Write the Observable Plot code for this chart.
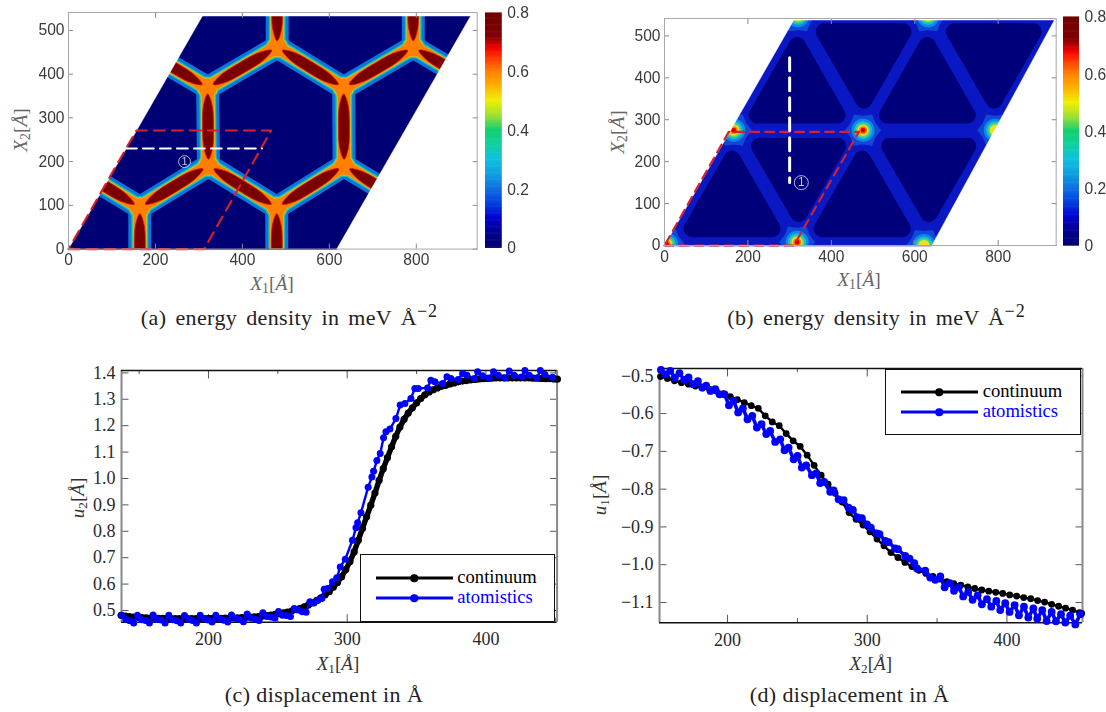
<!DOCTYPE html>
<html><head><meta charset="utf-8">
<script src="https://cdn.jsdelivr.net/npm/d3@7"></script>
<script src="https://cdn.jsdelivr.net/npm/@observablehq/plot@0.6"></script>
<style>
html,body{margin:0;padding:0;background:#fff}
#page{position:relative;width:1106px;height:712px;overflow:hidden;background:#fff}
.lbl{position:absolute;white-space:nowrap;transform:translate(-50%,-50%);line-height:1}
.lbl sub{font-size:.7em;vertical-align:baseline;position:relative;top:.25em;font-style:normal}
.lbl sup{font-size:.82em;vertical-align:baseline;position:relative;top:-.42em;letter-spacing:1px}
.cap{font-family:"Liberation Serif",serif;font-size:22px;color:#222;letter-spacing:.4px}
.capw{word-spacing:3px}
.axT{font-family:"Liberation Serif",serif;font-size:19.5px;color:#666}
.axB{font-family:"Liberation Serif",serif;font-size:19px;color:#333}
.legend{position:absolute;border:1.3px solid #111;background:#fff;box-sizing:border-box}
.leg{position:absolute;font-family:"Liberation Serif",serif;font-size:18.6px;line-height:1;transform:translateY(-52%)}
.lline{position:absolute;height:3px;transform:translateY(-50%)}
.ldot{position:absolute;width:7.5px;height:7.5px;border-radius:50%;transform:translate(-50%,-50%)}
</style></head><body><div id="page"></div>
<script>
// ---------- panel (a): wall network ----------
const aNodes = [[164,95],[322,191],[479,95],[634,191],[320,369],[633,369],[480,462],[793,462]];
const aEdges = [
 [[164,95],[322,191]],[[322,191],[479,95]],[[479,95],[634,191]],
 [[320,369],[480,462]],[[480,462],[633,369]],[[633,369],[793,462]],
 [[322,191],[320,369]],[[634,191],[633,369]],
 [[164,95],[164,-83]],[[479,95],[479,-83]],[[480,462],[480,640]],[[793,462],[793,640]],
 [[164,95],[6,191]],[[320,369],[162,462]],[[634,191],[793,95]],[[793,462],[952,369]]
];
const aOutline = [[0,0],[617,0],[925,533],[308,533]];
const aRed = [[0,0],[312,0],[466,271],[156,271],[0,0]];
const aWhite = [[132,230],[445,230]];
const aMark = [[267,200]];
// ---------- panel (b): triangular network ----------
const bOutline = [[0,0],[641,0],[935,538],[310,538]];
const bTriangles = [
 [[162,206],[66,40],[258,40]],[[474,206],[378,40],[570,40]],
 [[318,477],[222,311],[414,311]],[[630,477],[534,311],[726,311]],
 [[228,237],[415,237],[322,76]],[[540,237],[727,237],[634,76]],
 [[383,510],[572,510],[478,347]],[[695,510],[884,510],[790,347]]
];
const bHotFull = [[476,275],[318,8],[5,3],[166,275]];
const bHotPart = [[622,0],[793,275],[320,548],[632,548]];
const bRed = [[0,0],[310,0],[466,271],[154,271],[0,0]];
const bWhite = [[300,448],[300,150]];
const bMark = [[328,150]];
// ---------- colour bar ----------
const barStops = [0,.05,.1,.15,.2,.25,.3,.35,.4,.45,.5,.55,.6,.65,.68,.72,.8];
const barColors = ["#000070","#000090","#0000d0","#0040e0","#1070e0","#10a0e0","#10c0e0","#10d0a0","#10d070","#a0e030","#f0f000","#ffb000","#ff8000","#ff3000","#f00000","#800000","#700000"];
// ---------- panel (c) ----------
const cContX = [137,140,143,146,149,152,155,158,161,164,167,170,173,176,179,182,185,188,191,194,197,200,203,206,209,212,215,218,221,224,227,230,233,236,239,242,245,248,251,254,257,260,263,266,269,272,275,278,281,284,287,290,293,296,299,302,305,308,311,314,317,320,323,326,329,332,335,338,341,344,347,350,353,356,359,362,365,368,371,374,377,380,383,386,389,392,395,398,401,404,407,410,413,416,419,422,425,428,431,434,437,440,443,446,449,451.5];
const cContU = [.482,.479,.477,.475,.474,.473,.472,.471,.471,.470,.470,.470,.469,.469,.469,.469,.469,.469,.469,.469,.469,.470,.470,.470,.470,.471,.471,.472,.472,.473,.474,.475,.476,.477,.479,.481,.483,.485,.488,.491,.494,.498,.503,.508,.514,.521,.529,.538,.548,.559,.571,.588,.606,.628,.655,.686,.722,.766,.811,.855,.899,.945,.993,1.037,1.079,1.120,1.160,1.195,1.224,1.248,1.268,1.286,1.303,1.317,1.328,1.336,1.343,1.349,1.353,1.358,1.362,1.366,1.369,1.371,1.373,1.375,1.377,1.378,1.379,1.380,1.381,1.381,1.381,1.381,1.381,1.381,1.381,1.381,1.381,1.380,1.380,1.379,1.378,1.378,1.377,1.376];
const cAtomX = [137.5,140.4,143.3,146.1,148.8,151.7,154.6,157.4,160.1,163,165.9,168.7,171.4,174.3,177.2,180,182.7,185.6,188.5,191.3,194,196.9,199.8,202.6,205.3,208.2,211.1,213.9,216.6,219.5,222.4,225.2,227.9,230.8,233.7,236.5,239.2,242.1,245,247.8,250.5,253.4,256.3,259.1,261.8,264.7,267.6,270.4,273.1,276,278.9,281.7,283.4,285.8,289.4,292.5,295,298.6,303.8,306.3,307.5,309.9,315.1,317.8,319,321.4,323.8,326.2,327.9,330.8,335.1,338.2,341.6,345.9,348.8,351.2,357.9,360.3,363.2,368.8,371.9,374.8,380,383.2,386.3,391.6,394,397.6,402.4,405.5,408.9,413.9,416.8,420.4,425.7,428.1,431.2,436.8,439.2,442.5,448.1];
const cAtomU = [.482,.466,.461,.453,.482,.465,.462,.453,.483,.466,.464,.453,.482,.465,.461,.453,.481,.467,.462,.453,.482,.469,.464,.456,.482,.469,.463,.456,.483,.471,.466,.457,.487,.472,.467,.462,.491,.477,.475,.472,.496,.482,.481,.477,.508,.502,.495,.493,.533,.528,.539,.545,.580,.583,.609,.624,.665,.694,.766,.813,.832,.870,.967,1.006,1.027,1.068,1.095,1.154,1.177,1.187,1.227,1.278,1.284,1.303,1.341,1.341,1.343,1.372,1.366,1.360,1.385,1.379,1.375,1.398,1.391,1.379,1.404,1.389,1.381,1.404,1.391,1.381,1.407,1.391,1.384,1.409,1.391,1.381,1.409,1.394,1.383];
// ---------- panel (d) ----------
const dContX = [152,157,162,167,172,177,182,187,192,197,202,207,212,217,222,227,232,237,242,247,252,257,262,267,272,277,282,287,292,297,302,307,312,317,322,327,332,337,342,347,352,357,362,367,372,377,382,387,392,397,402,407,412,417,422,427,432,437,442,447,452,453.5];
const dContU = [-.502,-.507,-.513,-.518,-.522,-.527,-.532,-.535,-.540,-.547,-.555,-.563,-.571,-.579,-.586,-.606,-.622,-.632,-.653,-.672,-.687,-.710,-.737,-.763,-.787,-.811,-.834,-.862,-.880,-.895,-.913,-.932,-.950,-.968,-.981,-.994,-1.005,-1.015,-1.023,-1.031,-1.038,-1.045,-1.050,-1.054,-1.059,-1.063,-1.067,-1.070,-1.073,-1.076,-1.080,-1.083,-1.087,-1.090,-1.095,-1.099,-1.105,-1.110,-1.115,-1.120,-1.127,-1.129];
const dAtomX = [152.3,155.6,159,162.3,165.6,169,172.1,175.4,178.8,181.9,184.7,187.8,191.2,194.3,197.9,201,204.3,207.6,211,214.3,217.7,221,224.3,227.7,230.5,234.1,237.7,240.8,243.7,247.3,250.1,253.2,256.3,260.4,263.5,266.3,269.2,273.5,275.9,279.5,283.1,286.6,289.7,293.1,296.2,299.8,302.6,306.9,308.8,312.9,315.3,320,322,327.2,330.3,333.7,335.6,341.5,345.1,348.7,352.3,355.4,359,362.1,365.6,368.7,372.3,375.4,379,382.1,385.7,388.8,392.4,395.2,398.8,401.9,405.5,408.6,412.2,415.3,418.9,421.7,425.3,428.4,432,435.1,438.7,441.8,445.3,449,452.5];
const dAtomU = [-.484,-.496,-.487,-.505,-.493,-.511,-.504,-.522,-.514,-.531,-.526,-.540,-.535,-.549,-.549,-.578,-.566,-.597,-.586,-.615,-.606,-.637,-.628,-.654,-.646,-.675,-.668,-.697,-.690,-.721,-.712,-.743,-.737,-.763,-.758,-.784,-.781,-.807,-.803,-.827,-.829,-.849,-.855,-.875,-.877,-.893,-.902,-.917,-.919,-.937,-.940,-.957,-.959,-.977,-.984,-.996,-1.010,-1.016,-1.034,-1.040,-1.031,-1.060,-1.049,-1.069,-1.060,-1.084,-1.072,-1.093,-1.081,-1.105,-1.091,-1.111,-1.096,-1.120,-1.102,-1.125,-1.107,-1.134,-1.111,-1.140,-1.116,-1.143,-1.120,-1.149,-1.125,-1.150,-1.131,-1.153,-1.135,-1.158,-1.131];

const page = document.getElementById("page");
const pts = a => a.map(([x,y]) => ({x,y}));
const zip = (X,U) => X.map((x,i) => ({x,y:U[i]}));

function mount(box, domX, domY, marks, m={l:60,r:8,t:6,b:30}, extra={}, blur=0) {
  const [L,T,R,B] = box;
  const svg = Plot.plot({
    width:R-L+m.l+m.r, height:B-T+m.t+m.b,
    marginLeft:m.l, marginRight:m.r, marginTop:m.t, marginBottom:m.b,
    x:{domain:domX, axis:null}, y:{domain:domY, axis:null},
    style:{background:"transparent",overflow:"visible"},
    marks, ...extra
  });
  svg.style.position="absolute"; svg.style.left=(L-m.l)+"px"; svg.style.top=(T-m.t)+"px";
  if(blur) svg.style.filter=`blur(${blur}px)`;
  page.appendChild(svg);
}
function label(x,y,html,cls,rot){
  const d=document.createElement("div"); d.className="lbl "+cls; d.innerHTML=html;
  d.style.left=x+"px"; d.style.top=y+"px";
  if(rot) d.style.transform=`translate(-50%,-50%) rotate(${rot}deg)`;
  page.appendChild(d);
}
// ticks on all four sides with labels left and bottom
function sideAxes(xt,yt,o){
  const f={fontFamily:o.font,fontSize:o.size,color:o.color};
  const common={tickSize:-o.tick,stroke:o.tickColor,strokeWidth:1};
  return [
    Plot.axisX(xt,{anchor:"bottom",label:null,tickPadding:o.tick+o.padX,tickFormat:o.fx,...common,...f,fill:o.color}),
    Plot.axisY(yt,{anchor:"left",label:null,tickPadding:o.tick+o.padY,tickFormat:o.fy,...common,...f,fill:o.color}),
    Plot.axisX(xt,{anchor:"top",label:null,tickFormat:()=>"",...common}),
    Plot.axisY(yt,{anchor:"right",label:null,tickFormat:()=>"",...common})
  ];
}
const sans={font:"Liberation Sans",size:15.6,color:"#3a3a3a",tick:5,tickColor:"#8a8a8a",padX:5,padY:4,fx:d=>d,fy:d=>d};
const dashRed={stroke:"#d8202a",strokeWidth:2.1,strokeDasharray:"11,7"};

// masks: white polygons outside the parallelogram
function masks(o,xM,yM){
  const [bl,br,tr,tl]=o;
  const polys=[
    [[0,0],[tl[0],tl[1]],[tl[0],yM],[0,yM]],
    [[br[0],br[1]],[tr[0],tr[1]],[tr[0],yM],[xM,yM],[xM,0]],
    [[tl[0],tl[1]],[tr[0],tr[1]],[tr[0],yM],[tl[0],yM]]
  ];
  return polys.flatMap((p,i)=>p.map(([x,y])=>({x,y,z:i})));
}
function lens(e,i){
  const [[x0,y0],[x1,y1]]=e, dx=x1-x0, dy=y1-y0, len=Math.hypot(dx,dy), nx=-dy/len, ny=dx/len;
  const a=.08,b=.92, h=12.5;
  const P=(t,w)=>({x:x0+dx*t+nx*w,y:y0+dy*t+ny*w,z:i});
  return [P(a,0),P(a+(b-a)*.2,h*.85),P(.5,h),P(b-(b-a)*.2,h*.85),P(b,0),P(b-(b-a)*.2,-h*.85),P(.5,-h),P(a+(b-a)*.2,-h*.85)];
}
// six-lobed outline for the hot-spot halo in panel (b)
const star6={draw(ctx,size){
  const r=Math.sqrt(size/Math.PI);
  for(let i=0;i<12;i++){
    const a=i*Math.PI/6, q=i%2?.8*r:r;
    ctx[i?"lineTo":"moveTo"](q*Math.cos(a),q*Math.sin(a));
  }
  ctx.closePath();
}};

// ---- panel a ----
const aLayers=[[23,13,"#0f74d9"],[17,11.5,"#12b0d0"],[15.4,10.8,"#38d078"],[13.6,10,"#e8c828"],[12.6,9.4,"#ff8000"]];
const edgeObj=aEdges.map(([p,q])=>({x1:p[0],y1:p[1],x2:q[0],y2:q[1]}));
mount([68.3,11.7,477,248.3],[0,940],[0,541],[
  Plot.line([...pts(aOutline),pts(aOutline)[0]],{x:"x",y:"y",fill:"#000075",stroke:"#000075"}),
  ...aLayers.flatMap(([w,r,c])=>[
    Plot.link(edgeObj,{x1:"x1",y1:"y1",x2:"x2",y2:"y2",stroke:c,strokeWidth:w,clip:true}),
    Plot.dot(pts(aNodes),{x:"x",y:"y",r,fill:c,clip:true})
  ]),
  Plot.line(aEdges.flatMap(lens),{x:"x",y:"y",z:"z",curve:"cardinal-closed",fill:"#7a0000",stroke:"#d81010",strokeWidth:.8,clip:true}),
  Plot.line(masks(aOutline,940,541),{x:"x",y:"y",z:"z",curve:"linear-closed",fill:"white",stroke:"white",strokeWidth:.5}),
  Plot.line(pts(aRed),{x:"x",y:"y",...dashRed}),
  Plot.line(pts(aWhite),{x:"x",y:"y",stroke:"white",strokeWidth:1.8,strokeDasharray:"11,6"}),
  Plot.dot(pts(aMark),{x:"x",y:"y",r:6,stroke:"#c8c8e0",strokeWidth:.9}),
  Plot.text(pts(aMark),{x:"x",y:"y",text:()=>"1",fill:"#c8c8e0",fontSize:11,fontFamily:"Liberation Sans"}),
  ...sideAxes([0,200,400,600,800],[0,100,200,300,400,500],sans),
  Plot.frame({stroke:"#a8a8a8",strokeWidth:1})
],undefined,{},.35);
// ---- panel b ----
const hotLayers=[[11.5,"#1088e8"],[9,"#14c0d8"],[7,"#60d860"],[5.5,"#f0e020"],[4,"#ff8000"],[2.5,"#f00000"],[1,"#800000"]];
mount([664,18.3,1055.7,245.3],[0,939],[0,541.5],[
  Plot.line([...pts(bOutline),pts(bOutline)[0]],{x:"x",y:"y",fill:"#0a18c4",stroke:"#0a18c4"}),
  Plot.line(bTriangles.flatMap((t,i)=>t.map(([x,y])=>({x,y,z:i}))),{x:"x",y:"y",z:"z",curve:"linear-closed",fill:"#00007a",stroke:"#00007a",strokeWidth:17,strokeLinejoin:"round"}),
  Plot.dot([...pts(bHotFull),...pts(bHotPart)],{x:"x",y:"y",r:18,symbol:star6,fill:"#1048d8",clip:true}),
  ...hotLayers.map(([r,c],i)=>Plot.dot(i<4?[...pts(bHotFull),...pts(bHotPart)]:pts(bHotFull),{x:"x",y:"y",r,fill:c,clip:true})),
  Plot.line(masks(bOutline,939,541.5),{x:"x",y:"y",z:"z",curve:"linear-closed",fill:"white",stroke:"white",strokeWidth:.5}),
  Plot.line(pts(bRed),{x:"x",y:"y",...dashRed,strokeDasharray:"9,6"}),
  Plot.line(pts(bWhite),{x:"x",y:"y",stroke:"white",strokeWidth:3,strokeDasharray:"13,7"}),
  Plot.dot(pts(bMark),{x:"x",y:"y",r:7,stroke:"#c8c8e0",strokeWidth:.9}),
  Plot.text(pts(bMark),{x:"x",y:"y",text:()=>"1",fill:"#c8c8e0",fontSize:12,fontFamily:"Liberation Sans"}),
  ...sideAxes([0,200,400,600,800],[0,100,200,300,400,500],sans),
  Plot.frame({stroke:"#a8a8a8",strokeWidth:1})
],undefined,{},.35);
// ---- colour bars ----
function colorbar(box){
  const steps=d3.range(0,.8,.004).map(v=>({v}));
  mount(box,[0,1],[0,.8],[
    Plot.rect(steps,{x1:()=>0,x2:()=>1,y1:"v",y2:d=>d.v+.006,fill:"v"}),
    Plot.axisY([0,.2,.4,.6,.8],{anchor:"right",label:null,tickSize:0,tickPadding:5,tickFormat:d=>d===0?"0":d.toFixed(1),fontFamily:"Liberation Sans",fontSize:15.6,fill:"#3a3a3a"})
  ],{l:2,r:32,t:6,b:6},{color:{type:"linear",domain:barStops,range:barColors,interpolate:"rgb"}},.3);
}
colorbar([485,13,501.7,248]);
colorbar([1063.3,17.3,1079.3,246]);
// ---- line panels ----
const serif={font:"Liberation Serif",size:18,color:"#2a2a2a",tick:7.5,tickColor:"#555",padX:10,padY:6,fx:d=>d,fy:d3.format(".1f")};
function linePanel(box,dx,dy,xt,xminor,yt,cont,atom,st){
  const [x0,x1]=dx,[y0,y1]=dy;
  mount(box,dx,dy,[
    Plot.ruleX(xminor,{y1:y0,y2:y0+(y1-y0)*.016,stroke:"#555"}),
    Plot.ruleX(xminor,{y1:y1,y2:y1-(y1-y0)*.016,stroke:"#555"}),
    ...sideAxes(xt,yt,{...serif,fy:d3.format(".1f")}),
    Plot.ruleX([x0,x1],{stroke:"#888",strokeWidth:2}),
    Plot.ruleY([y0,y1],{stroke:"#111",strokeWidth:1.4}),
    Plot.line(cont,{x:"x",y:"y",stroke:"#000",strokeWidth:st.cw}),
    Plot.dot(cont,{x:"x",y:"y",r:st.cr,fill:"#000"}),
    Plot.line(atom,{x:"x",y:"y",stroke:"#0000ff",strokeWidth:st.aw}),
    Plot.dot(atom,{x:"x",y:"y",r:st.ar,fill:"#0000ff"})
  ],{l:60,r:10,t:10,b:30});
}
linePanel([120.7,370.3,556.3,622],[137.3,451.3],[.4557,1.409],[200,300,400],[150,250,350,450],[.5,.6,.7,.8,.9,1,1.1,1.2,1.3,1.4],zip(cContX,cContU),zip(cAtomX,cAtomU),{cw:5.4,cr:3.6,aw:2.4,ar:3.5});
linePanel([659.3,367.7,1082.3,622],[151.3,454.1],[-1.1538,-.4806],[200,300,400],[250,350,450],[-.5,-.6,-.7,-.8,-.9,-1,-1.1],zip(dContX,dContU),zip(dAtomX,dAtomU),{cw:2.4,cr:3.4,aw:3.6,ar:3.9});
// ---- legends ----
function legend(box,xa,xb,xt,y1,y2){
  const [L,T,R,B]=box; const d=document.createElement("div"); d.className="legend";
  Object.assign(d.style,{left:L+"px",top:T+"px",width:(R-L)+"px",height:(B-T)+"px"});
  page.appendChild(d);
  [[y1,"#000","continuum"],[y2,"#0000ff","atomistics"]].forEach(([y,c,t])=>{
    const l=document.createElement("div"); l.className="lline";
    Object.assign(l.style,{left:xa+"px",top:y+"px",width:(xb-xa)+"px",background:c}); page.appendChild(l);
    const o=document.createElement("div"); o.className="ldot";
    Object.assign(o.style,{left:(xa+xb)/2+"px",top:y+"px",background:c}); page.appendChild(o);
    const s=document.createElement("div"); s.className="leg"; s.textContent=t;
    Object.assign(s.style,{left:xt+"px",top:y+"px",color:c}); page.appendChild(s);
  });
}
legend([360,554.3,555,621.7],376,452.7,457.3,578.3,598.3);
legend([885,369,1080.7,435.3],901,977.7,982.7,392.3,412.3);
// ---- labels ----
label(272,284,"<i>X</i><sub>1</sub>[<i>Å</i>]","axT");
label(859,280,"<i>X</i><sub>1</sub>[<i>Å</i>]","axT");
label(21.4,130,"<i>X</i><sub>2</sub>[<i>Å</i>]","axT",-90);
label(618,131.7,"<i>X</i><sub>2</sub>[<i>Å</i>]","axT",-90);
label(338,663,"<i>X</i><sub>1</sub>[<i>Å</i>]","axB");
label(870.7,663,"<i>X</i><sub>2</sub>[<i>Å</i>]","axB");
label(76.7,498,"<i>u</i><sub>2</sub>[<i>Å</i>]","axB",-90);
label(599,495,"<i>u</i><sub>1</sub>[<i>Å</i>]","axB",-90);
label(289.5,318,"(a) energy density in meV Å<sup>−2</sup>","cap capw");
label(876.5,318,"(b) energy density in meV Å<sup>−2</sup>","cap capw");
label(324,695,"(c) displacement in Å","cap");
label(849.5,695,"(d) displacement in Å","cap");
</script></body></html>
